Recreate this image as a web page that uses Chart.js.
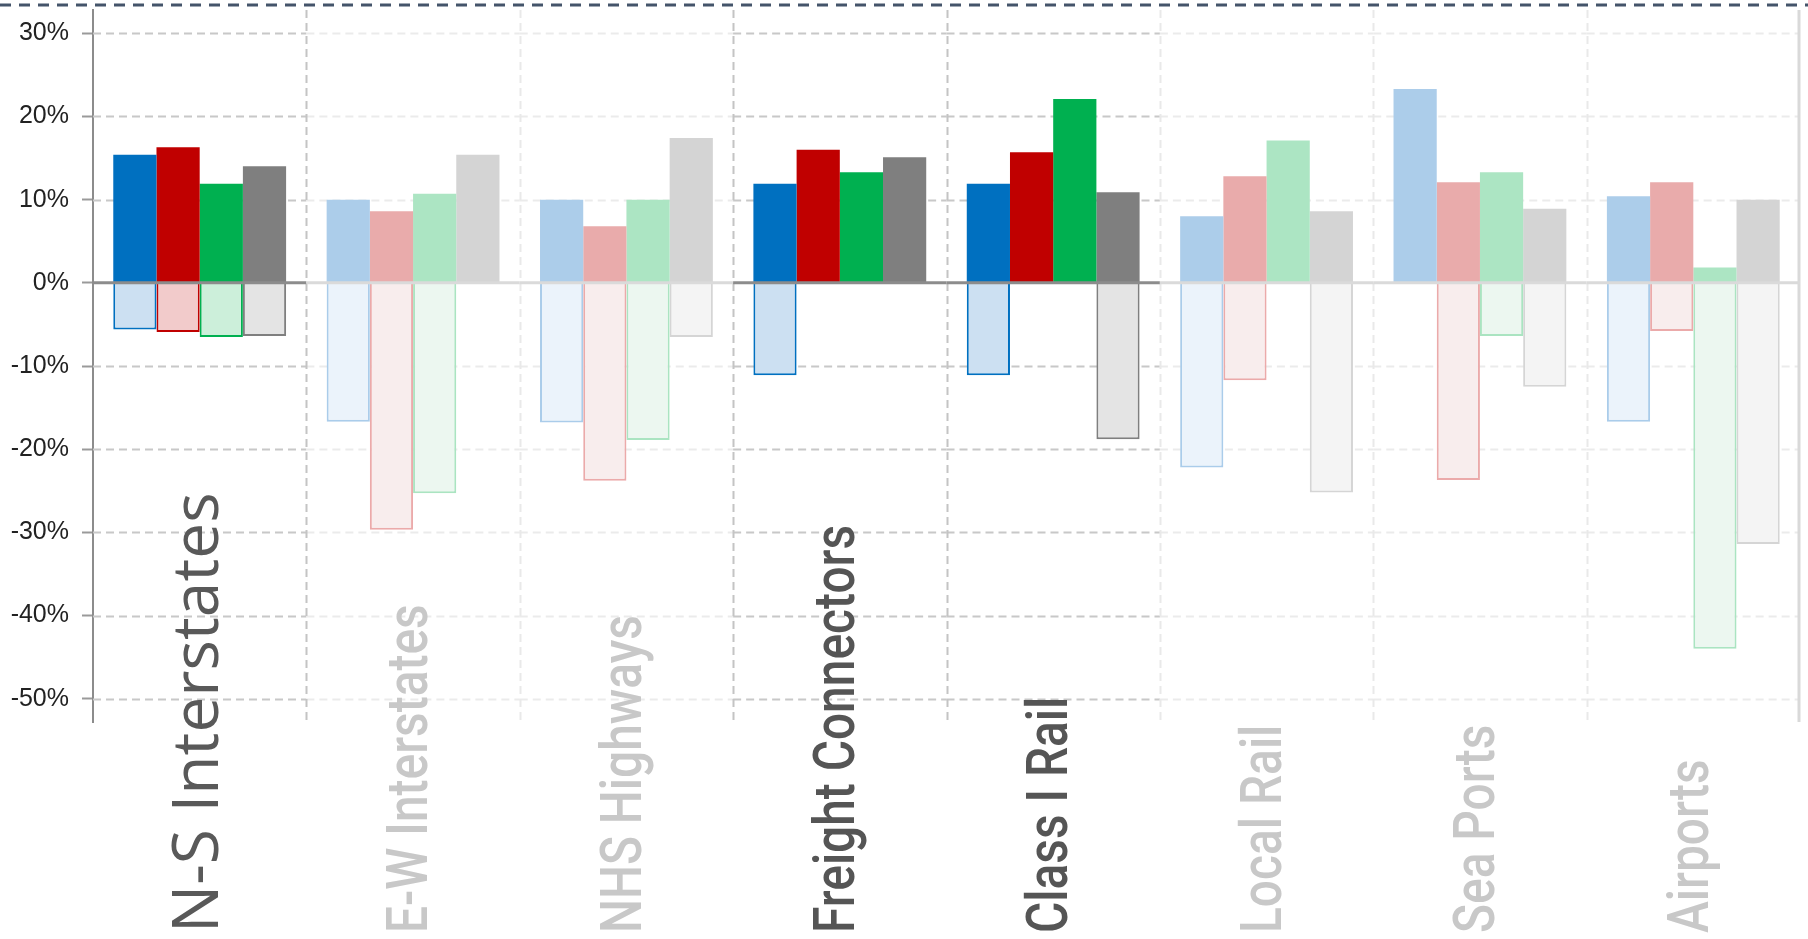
<!DOCTYPE html>
<html>
<head>
<meta charset="utf-8">
<script src="https://cdn.jsdelivr.net/npm/chart.js@4"></script>
<style>
  html, body { margin: 0; padding: 0; background: #fff; }
  #wrap { width: 1808px; height: 939px; position: relative; }
</style>
</head>
<body>
<div id="wrap"><canvas id="impactChart"></canvas></div>
<script>
// categories along the x axis
const categories = ["N-S Interstates", "E-W Interstates", "NHS Highways", "Freight Connectors",
                    "Class I Rail", "Local Rail", "Sea Ports", "Airports"];
// which categories are shown in full colour (the rest are faded)
const emphasis = [true, false, false, true, true, false, false, false];
// dividers between categories: darker or faded
const dividerDark = [true, false, true, true, false, false, false];

// series values in percent (gain above zero, loss below zero)
const bluePos  = [15.4, 10.0, 10.0, 11.9, 11.9,  8.0, 23.3, 10.4];
const blueNeg  = [-5.6, -16.7, -16.8, -11.1, -11.1, -22.2, null, -16.7];
const redPos   = [16.3,  8.6,  6.8, 16.0, 15.7, 12.8, 12.1, 12.1];
const redNeg   = [-5.9, -29.7, -23.8, null, null, -11.7, -23.7, -5.8];
const greenPos = [11.9, 10.7, 10.0, 13.3, 22.1, 17.1, 13.3,  1.85];
const greenNeg = [-6.5, -25.3, -18.9, null, null, null, -6.4, -44.0];
const grayPos  = [14.0, 15.4, 17.4, 15.1, 10.9,  8.6,  8.9, 10.0];
const grayNeg  = [-6.4, null, -6.5, null, -18.8, -25.2, -12.5, -31.4];

// y tick labels
const yTicks = [30, 20, 10, 0, -10, -20, -30, -40, -50];

const palette = {
    blue:  { strong: "#0070C0", fade: "#ACCDEA", negStrong: "#CCE0F2", negFade: "#EBF3FB", negFadeLine: "#AACCEA" },
    red:   { strong: "#C00000", fade: "#E9ABAB", negStrong: "#F2CBCB", negFade: "#F8EDED", negFadeLine: "#EBAAAA" },
    green: { strong: "#00B050", fade: "#ACE5C3", negStrong: "#CCEFDA", negFade: "#ECF7F0", negFadeLine: "#AAE4C1" },
    gray:  { strong: "#7F7F7F", fade: "#D4D4D4", negStrong: "#E4E4E4", negFade: "#F4F4F4", negFadeLine: "#D5D5D5" }
};

function posSet(name, values) {
    const p = palette[name];
    return {
        label: name + " gain",
        data: values,
        stack: name,
        backgroundColor: emphasis.map(e => e ? p.strong : p.fade),
        borderWidth: 0
    };
}

function negSet(name, values) {
    const p = palette[name];
    return {
        label: name + " loss",
        data: values,
        stack: name,
        backgroundColor: emphasis.map(e => e ? p.negStrong : p.negFade),
        borderColor: emphasis.map(e => e ? p.strong : p.negFadeLine),
        borderWidth: 2,
        borderSkipped: "start"
    };
}

function catBounds(chart, i) {
    const x = chart.scales.x;
    const w = (x.right - x.left) / categories.length;
    const c = x.getPixelForValue(i);
    return [c - w / 2, c + w / 2];
}

// grid, zero line, top rule and the rotated category labels
const decorPlugin = {
    id: "decor",
    beforeDatasetsDraw(chart) {
        const ctx = chart.ctx;
        const y = chart.scales.y;
        const area = chart.chartArea;
        ctx.save();
        ctx.lineWidth = 2;
        ctx.setLineDash([8, 5]);
        yTicks.forEach(v => {
            if (v === 0) return;
            const py = Math.round(y.getPixelForValue(v)) + 0.5;
            categories.forEach((c, i) => {
                const [l, r] = catBounds(chart, i);
                ctx.strokeStyle = emphasis[i] ? "#c8c8c8" : "#ebebeb";
                ctx.beginPath();
                ctx.moveTo(l, py);
                ctx.lineTo(r, py);
                ctx.stroke();
            });
        });
        dividerDark.forEach((dark, k) => {
            const px = Math.round(catBounds(chart, k + 1)[0]) + 0.5;
            ctx.strokeStyle = dark ? "#c4c4c4" : "#e9e9e9";
            ctx.beginPath();
            ctx.moveTo(px, area.top);
            ctx.lineTo(px, area.bottom);
            ctx.stroke();
        });
        ctx.setLineDash([]);
        ctx.lineWidth = 3;
        ctx.strokeStyle = "#d9d9d9";
        ctx.beginPath();
        ctx.moveTo(area.right - 1, area.top);
        ctx.lineTo(area.right - 1, area.bottom);
        ctx.stroke();
        ctx.restore();
    },
    afterDatasetsDraw(chart) {
        const ctx = chart.ctx;
        const y0 = chart.scales.y.getPixelForValue(0);
        ctx.save();
        ctx.lineWidth = 3;
        categories.forEach((c, i) => {
            const [l, r] = catBounds(chart, i);
            ctx.strokeStyle = emphasis[i] ? "#8c8c8c" : "#dadada";
            ctx.beginPath();
            ctx.moveTo(l, y0);
            ctx.lineTo(r, y0);
            ctx.stroke();
        });
        ctx.restore();
    },
    afterDraw(chart) {
        const ctx = chart.ctx;
        ctx.save();
        // dashed rule along the top
        ctx.strokeStyle = "#44546A";
        ctx.lineWidth = 3;
        ctx.setLineDash([11, 8]);
        ctx.beginPath();
        ctx.moveTo(0, 5);
        ctx.lineTo(chart.width, 5);
        ctx.stroke();
        ctx.setLineDash([]);

        // category labels, rotated, starting from the bottom edge
        const x = chart.scales.x;
        categories.forEach((label, i) => {
            const px = x.getPixelForValue(i);
            ctx.save();
            ctx.translate(px, chart.height - 6);
            ctx.rotate(-Math.PI / 2);
            ctx.textAlign = "left";
            ctx.textBaseline = "middle";
            if (i === 0) {
                ctx.font = "64px 'Open Sans'";
                ctx.fillStyle = "#595959";
            } else {
                // condensed look: squeeze along the reading direction
                ctx.scale(0.84, 1);
                ctx.font = "500 57px Roboto";
                ctx.fillStyle = emphasis[i] ? "#555555" : "#c8c8c8";
            }
            ctx.fillText(label, 0, 0);
            ctx.restore();
        });
        ctx.restore();
    }
};

document.addEventListener("DOMContentLoaded", () => {
    const ctx = document.getElementById("impactChart").getContext("2d");

    window.impactChart = new Chart(ctx, {
        type: "bar",
        data: {
            labels: categories,
            datasets: [
                posSet("blue", bluePos),   negSet("blue", blueNeg),
                posSet("red", redPos),     negSet("red", redNeg),
                posSet("green", greenPos), negSet("green", greenNeg),
                posSet("gray", grayPos),   negSet("gray", grayNeg)
            ]
        },
        options: {
            responsive: true,
            maintainAspectRatio: false,
            animation: false,
            events: [],
            layout: { padding: { top: 10, right: 8, left: 0, bottom: 0 } },
            plugins: {
                legend: { display: false },
                tooltip: { enabled: false }
            },
            datasets: {
                bar: {
                    categoryPercentage: 0.81,
                    barPercentage: 1.0
                }
            },
            scales: {
                x: {
                    stacked: true,
                    grid: { display: false },
                    border: { display: false },
                    ticks: { display: false },
                    afterFit: scale => { scale.height = 217; }
                },
                y: {
                    stacked: true,
                    min: -52.8,
                    max: 32.8,
                    afterBuildTicks: scale => {
                        scale.ticks = yTicks.map(v => ({ value: v }));
                    },
                    afterFit: scale => {
                        scale.width = 93;
                        scale.paddingTop = 0;
                        scale.paddingBottom = 0;
                    },
                    grid: {
                        drawOnChartArea: false,
                        drawTicks: true,
                        tickLength: 11,
                        tickWidth: 2,
                        color: "#9a9a9a"
                    },
                    border: { display: true, color: "#8c8c8c", width: 2 },
                    ticks: {
                        padding: 13,
                        color: "#222222",
                        font: { family: "'Liberation Sans', Arial, sans-serif", size: 25 },
                        callback: v => v + "%"
                    }
                }
            }
        },
        plugins: [decorPlugin]
    });
});
</script>
</body>
</html>
